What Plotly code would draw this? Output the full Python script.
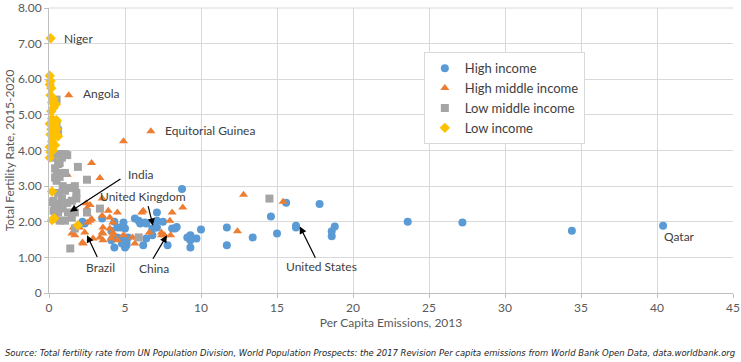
import plotly.graph_objects as go

# ---------------- data ----------------
high_income_x = [8.75, 15.6, 17.8, 14.6, 10.0, 11.7, 13.4, 11.7, 15.0, 16.25, 16.25, 18.8, 18.6, 18.6,
                 23.6, 27.2, 34.4, 40.4,
                 2.2, 2.35, 3.5, 4.3, 4.9, 4.7, 5.0, 4.5, 5.65, 5.9, 6.0, 6.3, 7.1, 7.5, 7.1, 7.1, 7.0,
                 8.1, 8.3, 6.8, 4.9, 5.1, 4.3, 4.1, 4.1, 4.5, 5.2, 5.0, 6.4, 6.8, 6.2, 7.8, 9.1, 9.3,
                 9.7, 9.3, 9.3, 5.1, 4.8, 6.4, 8.4]
high_income_y = [2.92, 2.53, 2.50, 2.15, 1.78, 1.84, 1.56, 1.34, 1.67, 1.89, 1.84, 1.87, 1.73, 1.59,
                 2.00, 1.98, 1.75, 1.89,
                 2.00, 1.95, 2.09, 2.00, 1.98, 1.84, 1.81, 1.84, 2.09, 2.03, 1.95, 1.98, 2.03, 2.00, 2.26, 1.84, 1.84,
                 1.81, 1.81, 1.81, 1.56, 1.42, 1.28, 1.48, 1.75, 1.56, 1.56, 1.28, 1.53, 1.62, 1.34, 1.34, 1.56, 1.48,
                 1.53, 1.28, 1.62, 1.34, 1.39, 1.95, 1.85]

high_middle_x = [1.3, 6.7, 4.9, 2.8, 1.2, 3.35, 12.8, 15.4, 12.4,
                 3.5, 2.7, 2.45, 0.6, 0.75, 2.5, 3.9, 4.5, 3.5, 4.0, 2.8, 2.7, 2.55, 4.2, 2.0, 1.6, 3.55,
                 4.0, 2.35, 3.5, 4.2, 3.55, 1.5, 1.7, 4.2, 4.9, 2.9, 4.1, 3.35, 3.55, 2.2, 2.25, 5.5, 5.65,
                 5.8, 6.6, 6.2, 6.1, 8.1, 8.8, 7.95, 7.6, 8.0, 7.4, 7.4, 4.5]
high_middle_y = [5.55, 4.54, 4.26, 3.65, 3.32, 3.23, 2.76, 2.56, 1.73,
                 2.65, 2.47, 2.52, 2.45, 2.40, 2.38, 2.31, 2.26, 2.17, 2.12, 2.08, 2.03, 1.98, 1.98, 1.84, 1.84, 1.84,
                 1.81, 1.70, 1.70, 1.70, 1.67, 1.67, 1.62, 1.62, 1.62, 1.53, 1.53, 1.56, 1.48, 1.42, 1.39, 1.56, 1.39,
                 1.56, 1.70, 2.31, 2.26, 2.26, 2.40, 2.03, 1.62, 1.62, 1.70, 1.62, 1.48]

low_middle_x = [0.5, 0.5, 0.6, 0.4, 0.3, 1.2, 0.85, 0.6, 1.9, 0.5, 0.85, 0.4, 2.5, 0.9, 0.4, 0.7, 1.05,
                0.7, 0.4, 1.05, 0.7, 0.5, 1.7, 1.4, 1.05, 0.6, 1.8, 0.3, 0.85, 0.4, 0.7, 1.2, 1.5, 1.8,
                0.3, 0.6, 0.9, 1.25, 1.7, 2.5, 3.35, 0.4, 0.7, 1.05, 1.5, 1.7, 1.4, 5.9, 14.5, 0.2]
low_middle_y = [5.43, 4.73, 4.56, 4.50, 3.80, 3.87, 3.80, 3.62, 3.54, 3.37, 3.37, 3.24, 3.18, 3.00, 3.90, 3.90, 3.90,
                3.65, 3.50, 3.37, 3.26, 3.15, 3.00, 2.95, 2.87, 2.81, 2.81, 2.59, 2.65, 2.50, 2.45, 2.53, 2.59, 2.65,
                2.31, 2.26, 2.37, 2.26, 2.26, 2.26, 2.37, 2.09, 2.03, 2.03, 2.12, 1.81, 1.25, 1.56, 2.65, 2.55]

low_income_x = [0.11, 0.05, 0.1, 0.05, 0.15, 0.1, 0.3, 0.2, 0.45, 0.3, 0.15, 0.2, 0.5, 0.05, 0.4, 0.15,
                0.25, 0.1, 0.6, 0.3, 0.2, 0.4, 0.05, 0.25, 0.1, 0.05, 0.2, 0.35, 1.9, 0.5, 0.5, 0.2]
low_income_y = [7.15, 6.10, 5.95, 5.85, 5.75, 5.55, 5.45, 5.35, 5.30, 5.20, 5.10, 4.90, 4.85, 4.75, 4.70, 4.60,
                4.50, 4.45, 4.40, 4.35, 4.25, 4.15, 4.10, 4.00, 3.95, 3.80, 2.85, 2.10, 1.90, 4.82, 4.60, 2.05]

series_names = ["High income", "High middle income", "Low middle income", "Low income"]
series_colors = ["#5B9BD5", "#ED7D31", "#A5A5A5", "#FFC000"]
series_symbols = ["circle", "triangle-up", "square", "diamond"]

# plain labels (x, y, text)
plain_labels = [(0.85, 7.15, "Niger"), (2.1, 5.6, "Angola"), (7.5, 4.55, "Equitorial Guinea"),
                (40.3, 1.6, "Qatar")]
# arrow labels: text, text position, arrow tail, arrow head
arrow_labels = [("India", (6.05, 3.34), (4.8, 3.23), (1.38, 2.28)),
                ("United Kingdom", (6.2, 2.70), (6.5, 2.48), (6.84, 1.89)),
                ("Brazil", (3.42, 0.72), (3.22, 0.97), (2.5, 1.62)),
                ("China", (6.9, 0.70), (6.78, 0.92), (7.76, 1.62)),
                ("United States", (17.96, 0.75), (17.57, 0.95), (16.5, 1.87))]

x_ticks = [0, 5, 10, 15, 20, 25, 30, 35, 40, 45]
y_ticks = [0, 1, 2, 3, 4, 5, 6, 7, 8]
y_ticktext = ["0", "1.00", "2.00", "3.00", "4.00", "5.00", "6.00", "7.00", "8.00"]

FONT = "Lato, 'Open Sans', sans-serif"
TXT = "#404040"
PLOT_H = 362 - 8 - 69

fig = go.Figure()
all_x = [high_income_x, high_middle_x, low_middle_x, low_income_x]
all_y = [high_income_y, high_middle_y, low_middle_y, low_income_y]
for name, col, sym, xs, ys in zip(series_names, series_colors, series_symbols, all_x, all_y):
    fig.add_trace(go.Scatter(x=xs, y=ys, mode="markers", name=name, cliponaxis=False,
                             marker=dict(color=col, symbol=sym, size=8, line=dict(width=0))))

for x, y, t in plain_labels:
    fig.add_annotation(x=x, y=y, text=t, showarrow=False, xanchor="left",
                       font=dict(family=FONT, size=12, color=TXT))

for t, (tx, ty), (axx, ayy), (hx, hy) in arrow_labels:
    fig.add_annotation(x=tx, y=ty, text=t, showarrow=False,
                       font=dict(family=FONT, size=12, color=TXT))
    fig.add_annotation(x=hx, y=hy, ax=axx, ay=ayy, axref="x", ayref="y", text="",
                       showarrow=True, arrowhead=2, arrowsize=1.2, arrowwidth=1.2,
                       arrowcolor="#000000")

fig.add_annotation(x=-46 / 684, y=-59 / PLOT_H, xref="paper", yref="paper", xanchor="left", yanchor="middle",
                   text="<i>Source: Total fertility rate from UN Population Division, World Population Prospects: the 2017 Revision Per capita emissions from World Bank Open Data, data.worldbank.org</i>",
                   showarrow=False,
                   font=dict(family="'DejaVu Sans Condensed', 'Liberation Sans Narrow', sans-serif",
                             size=9.4, color="#262626"))

fig.update_layout(
    width=741, height=362,
    margin=dict(l=49, r=8, t=8, b=69, autoexpand=False),
    paper_bgcolor="white", plot_bgcolor="white",
    font=dict(family=FONT, size=12, color=TXT),
    showlegend=True,
    legend=dict(x=0.548, y=0.845, xanchor="left", yanchor="top", bgcolor="white",
                bordercolor="#d9d9d9", borderwidth=1, font=dict(size=13, color=TXT),
                tracegroupgap=0, itemsizing="trace"),
    xaxis=dict(range=[0, 45], tickvals=x_ticks, showgrid=True, gridcolor="#d9d9d9", gridwidth=1,
               showline=True, linecolor="#bfbfbf", ticks="outside", ticklen=4, tickcolor="#bfbfbf",
               tickfont=dict(size=12, color="#595959"), zeroline=False, automargin=False,
               ticklabeloverflow="allow",
               title=dict(text="Per Capita Emissions, 2013", font=dict(size=12, color="#595959"), standoff=1)),
    yaxis=dict(range=[0, 8], tickvals=y_ticks, ticktext=y_ticktext, showgrid=True, gridcolor="#d9d9d9",
               gridwidth=1, showline=True, linecolor="#bfbfbf", ticks="outside", ticklen=4,
               tickcolor="#bfbfbf", tickfont=dict(size=12, color="#595959"), zeroline=False, automargin=False,
               ticklabeloverflow="allow",
               title=dict(text="Total Fertility Rate, 2015-2020", font=dict(size=12, color="#595959"), standoff=0)),
    shapes=[dict(type="line", xref="paper", yref="paper", x0=0, x1=1, y0=1, y1=1,
                 line=dict(color="#d9d9d9", width=1), layer="below")],
)

fig.write_html("out.html", config={"displayModeBar": False},
               post_script="document.body.style.margin='0px';")
